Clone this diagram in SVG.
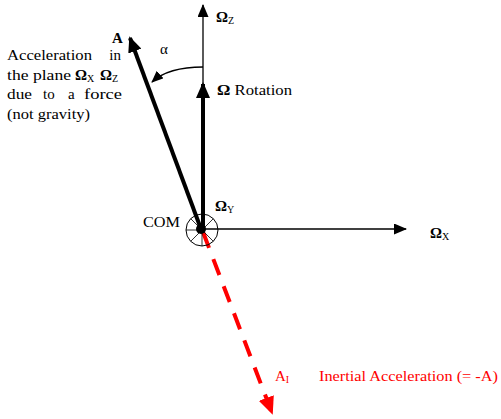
<svg xmlns="http://www.w3.org/2000/svg" width="501" height="419" viewBox="0 0 501 419">
<style>
text{font-family:"Liberation Serif","DejaVu Serif","Times New Roman",serif;font-size:15px;fill:#000}
.b{font-weight:bold}
.sub{font-size:10px;font-weight:normal}
.red{fill:#ff0000}
.thin{stroke:#000;stroke-width:1.3;fill:none}
.thick{stroke:#000;stroke-width:4;fill:none}
</style>
<defs>
<marker id="ah" markerWidth="13" markerHeight="11" refX="12" refY="5.5" orient="auto" markerUnits="userSpaceOnUse" viewBox="0 0 13 11"><path d="M0,0 L13,5.5 L0,11 z" fill="#000"/></marker>
<marker id="ahb" markerWidth="16" markerHeight="14" refX="14" refY="7" orient="auto" markerUnits="userSpaceOnUse" viewBox="0 0 16 14"><path d="M0,0 L16,7 L0,14 z" fill="#000"/></marker>
<marker id="ahr" markerWidth="18" markerHeight="16" refX="16" refY="8" orient="auto" markerUnits="userSpaceOnUse" viewBox="0 0 18 16"><path d="M0,0 L18,8 L0,16 z" fill="#ff0000"/></marker>
<marker id="ahs" markerWidth="12" markerHeight="10" refX="11" refY="5" orient="auto" markerUnits="userSpaceOnUse" viewBox="0 0 12 10"><path d="M0,0 L12,5 L0,10 z" fill="#000"/></marker>
</defs>
<g id="connectors">
<line class="thin" x1="203" y1="229" x2="203" y2="5" marker-end="url(#ah)"/>
<line class="thin" x1="201" y1="229" x2="406" y2="229" marker-end="url(#ah)"/>
<line class="thick" x1="203" y1="229" x2="203" y2="84" marker-end="url(#ahb)"/>
<line class="thick" x1="201" y1="229" x2="130" y2="38" marker-end="url(#ahb)"/>
<line x1="203" y1="232" x2="272" y2="413" stroke="#ff0000" stroke-width="4" stroke-dasharray="17,12" marker-end="url(#ahr)"/>
<path class="thin" d="M203,67 C185,67 165,70 152,82" marker-end="url(#ahs)"/>
</g>
<g id="com">
<circle cx="202" cy="230" r="16" fill="none" stroke="#000" stroke-width="1"/>
<g stroke="#000" stroke-width="0.8">
<line x1="202" y1="230" x2="190.7" y2="218.7"/>
<line x1="202" y1="230" x2="213.3" y2="218.7"/>
<line x1="202" y1="230" x2="190.7" y2="241.3"/>
<line x1="202" y1="230" x2="213.3" y2="241.3"/>
<line x1="202" y1="230" x2="186" y2="230"/>
<line x1="202" y1="230" x2="202" y2="246"/>
</g>
<circle cx="201" cy="229" r="5" fill="#000"/>
<text x="143" y="227" textLength="37" lengthAdjust="spacingAndGlyphs">COM</text>
</g>
<g id="labels">
<text x="216" y="22" class="b">Ω<tspan class="sub" dy="2">Z</tspan></text>
<text x="217" y="95" textLength="75" lengthAdjust="spacingAndGlyphs"><tspan class="b">Ω</tspan> Rotation</text>
<text x="215" y="211" class="b">Ω<tspan class="sub" dy="2">Y</tspan></text>
<text x="430" y="238" class="b">Ω<tspan class="sub" dy="2">X</tspan></text>
<text x="112" y="43" class="b">A</text>
<text x="160" y="54">α</text>
<text x="7" y="60" textLength="85" lengthAdjust="spacingAndGlyphs">Acceleration</text>
<text x="121" y="60" text-anchor="end">in</text>
<text x="7" y="80" textLength="64" lengthAdjust="spacingAndGlyphs">the plane</text>
<text x="75" y="80" class="b">Ω<tspan class="sub" dy="2">X</tspan></text>
<text x="100" y="80" class="b">Ω<tspan class="sub" dy="2">Z</tspan></text>
<text x="7" y="99" textLength="25" lengthAdjust="spacingAndGlyphs">due</text>
<text x="43" y="99">to</text>
<text x="68" y="99">a</text>
<text x="84" y="99" textLength="38" lengthAdjust="spacingAndGlyphs">force</text>
<text x="7" y="119" textLength="83" lengthAdjust="spacingAndGlyphs">(not gravity)</text>
<text x="275" y="381" class="red">A<tspan class="sub" dy="2">I</tspan></text>
<text x="319" y="381" class="red" textLength="179" lengthAdjust="spacingAndGlyphs">Inertial Acceleration (= -A)</text>
</g>
</svg>
